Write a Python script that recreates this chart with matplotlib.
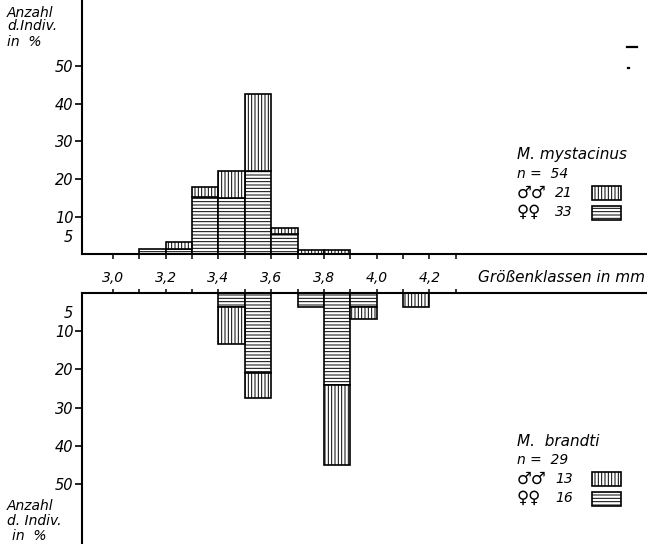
import matplotlib
matplotlib.use("Agg")
import matplotlib.pyplot as plt
from matplotlib.patches import Rectangle
from matplotlib.lines import Line2D
import numpy as np

# ---- data (percent of individuals per size class, left bin edges in mm) ----
bin_left = [3.1, 3.2, 3.3, 3.4, 3.5, 3.6, 3.7, 3.8, 3.9, 4.0, 4.1]
bin_width = 0.1
myst_female = [1.4, 1.4, 15.3, 14.9, 22.1, 5.3, 0, 0, 0, 0, 0]
myst_male = [0, 2.0, 2.7, 7.2, 20.4, 1.8, 1.2, 1.2, 0, 0, 0]
brandti_female = [0, 0, 0, 3.65, 20.9, 0, 3.65, 24.2, 3.65, 0, 0]
brandti_male = [0, 0, 0, 9.85, 6.7, 0, 0, 20.8, 3.25, 0, 3.65]

y_ticks = [5, 10, 20, 30, 40, 50]
x_major = [3.0, 3.2, 3.4, 3.6, 3.8, 4.0, 4.2]
x_labels = ["3,0", "3,2", "3,4", "3,6", "3,8", "4,0", "4,2"]
x_minor = [3.1, 3.3, 3.5, 3.7, 3.9, 4.1, 4.3]

W, H = 647, 544
plt.rcParams["hatch.linewidth"] = 0.7
plt.rcParams["font.family"] = ["DejaVu Sans"]
fig = plt.figure(figsize=(W / 100, H / 100), dpi=100)

def fx(x):
    return x / W

def fy(y):
    return 1 - y / H

XL = (2.8814, 5.0246)
left = fx(81.7)

ax_top = fig.add_axes([left, fy(254.4), 1 - left, fy(0) - fy(254.4)])
ax_bot = fig.add_axes([left, fy(544), 1 - left, fy(292.7) - fy(544)])

M_HATCH = "|||||"
F_HATCH = "-----"
EDGE_LW = 1.2

def draw(ax, female, male):
    x = np.array(bin_left)
    f = np.array(female, dtype=float)
    m = np.array(male, dtype=float)
    fm = f > 0
    ax.bar(x[fm], f[fm], width=bin_width, align="edge", bottom=0,
           facecolor="white", edgecolor="black", linewidth=EDGE_LW, hatch=F_HATCH)
    mm = m > 0
    ax.bar(x[mm], m[mm], width=bin_width, align="edge", bottom=f[mm],
           facecolor="white", edgecolor="black", linewidth=EDGE_LW, hatch=M_HATCH)

draw(ax_top, myst_female, myst_male)
draw(ax_bot, brandti_female, brandti_male)

for ax in (ax_top, ax_bot):
    ax.set_xlim(*XL)
    ax.set_facecolor("none")
    ax.set_yticks(y_ticks)
    ax.set_yticklabels([str(v) for v in y_ticks], fontsize=10.5, style="italic")
    ax.tick_params(axis="y", direction="out", length=5, width=1.2, pad=1)
    ax.yaxis.get_major_ticks()[0].tick1line.set_visible(False)
    ax.spines["right"].set_visible(False)
    for s in ax.spines.values():
        s.set_linewidth(1.5)

ax_top.set_ylim(0, 67.5)
ax_top.spines["top"].set_visible(False)
ax_top.set_xticks(x_major)
ax_top.set_xticklabels(x_labels, fontsize=10, style="italic")
ax_top.set_xticks(x_minor, minor=True)
ax_top.tick_params(axis="x", which="both", direction="out", length=3.5, width=1.1, pad=8.5)

ax_bot.set_ylim(65.6, 0)
ax_bot.spines["bottom"].set_visible(False)
ax_bot.xaxis.set_ticks_position("top")
ax_bot.set_xticks(x_major)
ax_bot.set_xticks(x_minor, minor=True)
ax_bot.tick_params(axis="x", which="both", direction="out", length=3, width=1.1,
                   labeltop=False, labelbottom=False)

TXT = dict(style="italic", fontsize=10)

# axis titles
fig.text(fx(7), fy(12.7), "Anzahl", va="center", ha="left", **TXT)
fig.text(fx(7), fy(26), "d.Indiv.", va="center", ha="left", **TXT)
fig.text(fx(7), fy(42), "in  %", va="center", ha="left", **TXT)

fig.text(fx(7), fy(506), "Anzahl", va="center", ha="left", **TXT)
fig.text(fx(7), fy(521), "d. Indiv.", va="center", ha="left", **TXT)
fig.text(fx(12), fy(536), "in  %", va="center", ha="left", **TXT)

fig.text(fx(478), fy(277), "Größenklassen in mm", va="center", ha="left",
         style="italic", fontsize=11)

# legends
def legend(y0, name, n, nm, nf):
    fig.text(fx(517), fy(y0), name, va="center", ha="left", style="italic", fontsize=11)
    fig.text(fx(517), fy(y0 + 19), "n =  " + str(n), va="center", ha="left", **TXT)
    fig.text(fx(517), fy(y0 + 38), "\u2642\u2642", va="center", ha="left", fontsize=12)
    fig.text(fx(555), fy(y0 + 38), str(nm), va="center", ha="left", **TXT)
    fig.text(fx(517), fy(y0 + 57), "\u2640\u2640", va="center", ha="left", fontsize=12)
    fig.text(fx(555), fy(y0 + 57), str(nf), va="center", ha="left", **TXT)
    for yy, h in ((y0 + 31, M_HATCH), (y0 + 51, F_HATCH)):
        fig.add_artist(Rectangle((fx(592), fy(yy + 14)), fx(29), 14 / H,
                                 transform=fig.transFigure, facecolor="white",
                                 edgecolor="black", linewidth=1.2, hatch=h))

legend(155, "M. mystacinus", 54, 21, 33)
legend(441, "M.  brandti", 29, 13, 16)

# small scan marks at top right
fig.add_artist(Line2D([fx(627), fx(637)], [fy(46.7), fy(46.7)], color="black",
                      linewidth=1.6, transform=fig.transFigure))
fig.add_artist(Line2D([fx(627.5), fx(629)], [fy(68), fy(68)], color="black",
                      linewidth=1.6, transform=fig.transFigure))

fig.savefig("out.png", dpi=100)
